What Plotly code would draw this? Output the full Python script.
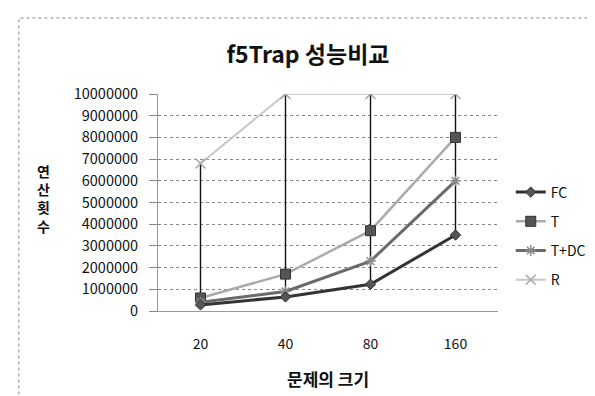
import plotly.graph_objects as go

categories = ["20", "40", "80", "160"]
fc = [280000, 650000, 1230000, 3500000]
t = [600000, 1700000, 3700000, 8000000]
tdc = [400000, 900000, 2300000, 6000000]
r = [6800000, 10000000, 10000000, 10000000]
y_ticks = [0, 1000000, 2000000, 3000000, 4000000, 5000000, 6000000, 7000000, 8000000, 9000000, 10000000]

title_text = "f5Trap 성능비교"
x_title = "문제의 크기"
y_title = "연산횟수"

FONT = "Noto Sans CJK KR"

# plot-area in canvas pixels
L, R, T, B = 150, 497, 86, 303
PW, PH = R - L, B - T

def px(x):
    return (x - L) / PW

def py(y):
    return (B - y) / PH

fig = go.Figure()

# high-low lines (max to min per category)
hl_x, hl_y = [], []
for i, c in enumerate(categories):
    vals = [fc[i], t[i], tdc[i], r[i]]
    hl_x += [c, c, None]
    hl_y += [max(vals), min(vals), None]
fig.add_trace(go.Scatter(x=hl_x, y=hl_y, mode="lines", line=dict(color="#111111", width=1.4),
                         showlegend=False, hoverinfo="skip"))

fig.add_trace(go.Scatter(x=categories, y=r, name="R", mode="lines+markers", legendrank=4, legendgroup="r",
                         line=dict(color="#c8c8c8", width=2),
                         marker=dict(symbol="x-thin", size=10, line=dict(color="#a8a8a8", width=1.5))))
fig.add_trace(go.Scatter(x=categories, y=t, name="T", mode="lines+markers", legendrank=2, legendgroup="t",
                         line=dict(color="#ababab", width=2.5),
                         marker=dict(symbol="square", size=10, color="#555555",
                                     line=dict(color="#333333", width=1))))
fig.add_trace(go.Scatter(x=categories, y=tdc, name="T+DC", mode="lines+markers", legendrank=3, legendgroup="tdc",
                         line=dict(color="#6a6a6a", width=3),
                         marker=dict(symbol="asterisk", size=9, line=dict(color="#8a8a8a", width=1.5))))
fig.add_trace(go.Scatter(x=categories, y=fc, name="FC", mode="lines+markers", legendrank=1, legendgroup="fc",
                         line=dict(color="#333333", width=3),
                         marker=dict(symbol="diamond", size=8, color="#555555",
                                     line=dict(color="#333333", width=1))))

fig.update_layout(
    width=595, height=396,
    margin=dict(l=L, r=595 - R, t=T, b=396 - B),
    paper_bgcolor="white", plot_bgcolor="white",
    font=dict(family=FONT, size=14, color="#111111"),
    title=dict(text=title_text, x=300/595, xanchor="center", y=1-47/396, yanchor="middle",
               font=dict(family=FONT, size=23, color="#111111", weight="bold")),
    showlegend=True,
    legend=dict(x=px(510), xanchor="left", y=py(228), yanchor="middle", traceorder="grouped",
                font=dict(family=FONT, size=14), tracegroupgap=8, itemwidth=30,
                bgcolor="rgba(0,0,0,0)"),
)
fig.update_xaxes(type="category", categoryorder="array", categoryarray=categories,
                 range=[-0.5, len(categories) - 0.5],
                 showgrid=False, showline=True, linecolor="#999999", linewidth=1,
                 ticks="", ticklabelstandoff=20, tickfont=dict(size=14), zeroline=False)
fig.update_yaxes(range=[0, 10000000], tickvals=y_ticks, tickformat="d",
                 showgrid=True, gridcolor="#888888", griddash="dot", gridwidth=1,
                 showline=True, linecolor="#999999", linewidth=1,
                 ticks="outside", ticklen=8, tickcolor="#888888", ticklabelstandoff=8,
                 tickfont=dict(size=14.5), zeroline=False)

# axis titles
fig.add_annotation(text="<br>".join(list(y_title)), xref="paper", yref="paper",
                   x=px(33), y=py(190), xanchor="center", yanchor="middle",
                   showarrow=False, font=dict(family=FONT, size=14, color="#111111", weight="bold"))
fig.add_annotation(text=x_title, xref="paper", yref="paper",
                   x=px(323), y=py(370), xanchor="center", yanchor="middle",
                   showarrow=False, font=dict(family=FONT, size=17, color="#111111", weight="bold"))

# outer chart border
fig.add_shape(type="rect", xref="paper", yref="paper",
              x0=px(8), x1=px(590), y0=py(392), y1=py(10),
              line=dict(color="#888888", width=1, dash="dot"))

fig.write_html("out.html")
